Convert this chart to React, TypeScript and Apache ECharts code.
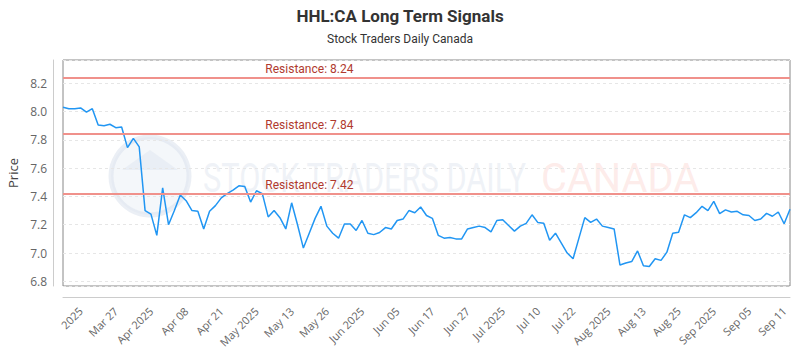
import React, { useEffect, useRef } from "react";
import * as echarts from "echarts";

const priceValues: number[] = [
  8.03, 8.02, 8.02, 8.025, 7.995, 8.02, 7.905, 7.9, 7.91, 7.886,
  7.89, 7.745, 7.81, 7.75, 7.3, 7.275, 7.125, 7.46, 7.2, 7.3,
  7.41, 7.37, 7.3, 7.295, 7.17, 7.295, 7.335, 7.39, 7.42, 7.445,
  7.475, 7.47, 7.36, 7.44, 7.42, 7.255, 7.3, 7.25, 7.17, 7.355,
  7.2, 7.035, 7.14, 7.245, 7.33, 7.19, 7.14, 7.105, 7.205, 7.205,
  7.16, 7.23, 7.14, 7.13, 7.145, 7.18, 7.17, 7.23, 7.24, 7.3,
  7.285, 7.325, 7.265, 7.245, 7.125, 7.105, 7.11, 7.1, 7.1, 7.17,
  7.18, 7.19, 7.18, 7.15, 7.23, 7.235, 7.195, 7.155, 7.19, 7.21,
  7.27, 7.215, 7.21, 7.09, 7.14, 7.07, 7.0, 6.96, 7.105, 7.25,
  7.217, 7.24, 7.19, 7.18, 7.17, 6.915, 6.93, 6.94, 7.015, 6.91,
  6.905, 6.96, 6.948, 7.006, 7.14, 7.147, 7.27, 7.25, 7.285, 7.33,
  7.3, 7.365, 7.278, 7.305, 7.29, 7.295, 7.27, 7.265, 7.23, 7.24,
  7.28, 7.26, 7.29, 7.207, 7.31,
];

const tickLabels: string[] = [
  "2025", "Mar 27", "Apr 2025", "Apr 08", "Apr 21", "May 2025", "May 13",
  "May 26", "Jun 2025", "Jun 05", "Jun 17", "Jun 27", "Jul 2025", "Jul 10",
  "Jul 22", "Aug 2025", "Aug 13", "Aug 25", "Sep 2025", "Sep 05", "Sep 11",
];
const firstTickIndex = 3;
const tickStep = 6;

const resistanceLevels: number[] = [8.24, 7.84, 7.42];
const resistanceLabelIndex = 34;

const yMin = 6.767;
const yMax = 8.364;

const categories: string[] = priceValues.map((_, i) => {
  const k = (i - firstTickIndex) / tickStep;
  return i >= firstTickIndex && Number.isInteger(k) && k < tickLabels.length
    ? tickLabels[k]
    : "#" + i;
});

export default function App() {
  const ref = useRef<HTMLDivElement>(null);
  useEffect(() => {
    document.body.style.margin = "0";
    if (!ref.current) return;
    const chart = echarts.init(ref.current, undefined, { renderer: "svg" });
    const last = priceValues.length - 1;
    const markData: any[] = [];
    resistanceLevels.forEach((lv) => {
      markData.push({ yAxis: lv, label: { show: false } });
      markData.push([
        {
          coord: [resistanceLabelIndex, lv],
          label: {
            show: true,
            position: "insideStartTop",
            formatter: "Resistance: " + lv.toFixed(2),
          },
          lineStyle: { color: "rgba(0,0,0,0)", width: 0 },
        },
        { coord: [last, lv] },
      ]);
    });

    chart.setOption({
      animation: false,
      textStyle: { fontFamily: "Open Sans" },
      title: {
        text: "HHL:CA Long Term Signals",
        subtext: "Stock Traders Daily Canada",
        left: "center",
        top: 2,
        itemGap: 9,
        textStyle: {
          fontFamily: "Roboto",
          fontSize: 17,
          fontWeight: "bold",
          color: "#333",
        },
        subtextStyle: { fontFamily: "Roboto", fontSize: 12, color: "#333" },
      },
      grid: {
        left: 63,
        right: 10,
        top: 60,
        bottom: 64,
        show: true,
        borderColor: "#888",
        borderWidth: 1,
        containLabel: false,
        outerBoundsMode: "none",
      },
      graphic: [
        {
          type: "circle",
          shape: { cx: 150, cy: 176, r: 39 },
          style: {
            fill: "rgba(228,234,243,0.4)",
            stroke: "rgba(218,226,237,0.55)",
            lineWidth: 5,
          },
          silent: true,
          z: 0,
        },
        {
          type: "polygon",
          shape: { points: [[122, 170], [150, 150], [178, 170]] },
          style: { fill: "rgba(218,226,237,0.4)" },
          silent: true,
          z: 0,
        },
        {
          type: "text",
          x: 203,
          y: 178,
          scaleX: 0.75,
          style: {
            text: "STOCK TRADERS DAILY",
            font: "41px Roboto",
            fill: "rgba(226,232,240,0.55)",
            textVerticalAlign: "middle",
          },
          silent: true,
          z: 0,
        },
        {
          type: "text",
          x: 541,
          y: 178,
          scaleX: 0.97,
          style: {
            text: "CANADA",
            font: "41px Roboto",
            fill: "rgba(251,212,207,0.45)",
            textVerticalAlign: "middle",
          },
          silent: true,
          z: 0,
        },
      ],
      xAxis: {
        type: "category",
        data: categories,
        boundaryGap: false,
        offset: 11,
        axisLine: { show: true, lineStyle: { color: "#ccc" } },
        axisTick: { show: false },
        splitLine: { show: false },
        axisLabel: {
          rotate: 45,
          color: "#666",
          fontSize: 11,
          margin: 12,
          interval: (i: number) =>
            i >= firstTickIndex && (i - firstTickIndex) % tickStep === 0,
          formatter: (v: string) => (v.startsWith("#") ? "" : v),
        },
      },
      yAxis: {
        type: "value",
        min: yMin,
        max: yMax,
        splitNumber: 8,
        offset: 10,
        name: "Price",
        nameLocation: "middle",
        nameGap: 31,
        nameTextStyle: { fontSize: 13, color: "#444" },
        axisLine: { show: true, lineStyle: { color: "#ccc" } },
        axisTick: { show: false },
        axisLabel: {
          color: "#666",
          fontSize: 12,
          margin: 6,
          showMinLabel: false,
          showMaxLabel: false,
          formatter: (v: number) => v.toFixed(1),
        },
        splitLine: {
          show: true,
          lineStyle: { color: "#e6e6e6", type: [3, 3] },
        },
      },
      series: [
        {
          type: "line",
          data: priceValues,
          symbol: "none",
          lineStyle: { color: "#2196f3", width: 1.5 },
          itemStyle: { color: "#2196f3" },
          z: 3,
          markLine: {
            silent: true,
            symbol: "none",
            lineStyle: { color: "#f0918b", width: 2, type: "solid" },
            label: {
              color: "#b03a2e",
              fontSize: 12,
              fontFamily: "Roboto",
              distance: 3,
            },
            data: markData,
          },
        },
      ],
    });
    return () => chart.dispose();
  }, []);
  return <div ref={ref} style={{ width: 800, height: 350 }} />;
}
